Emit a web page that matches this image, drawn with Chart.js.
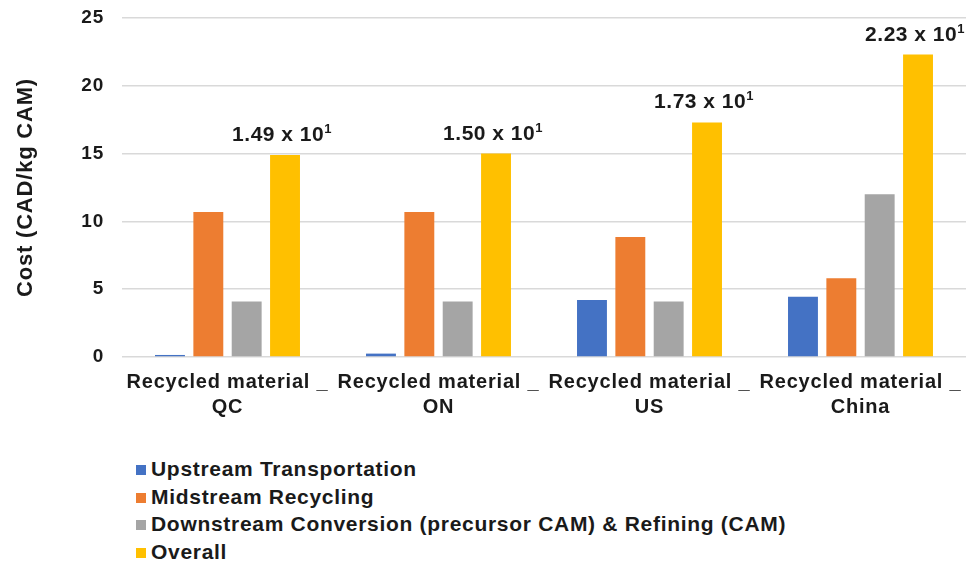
<!DOCTYPE html>
<html>
<head>
<meta charset="utf-8">
<script src="https://cdn.jsdelivr.net/npm/chart.js@4"></script>
<style>
  body { margin: 0; background: #fff; }
  #wrap { position: relative; width: 976px; height: 567px; }
  #box { position: absolute; left: 0; top: 0; width: 976px; height: 440px; }
  #legend { position: absolute; left: 136px; top: 455px; font: bold 21px "Liberation Sans", Arial, sans-serif; letter-spacing: 0.7px; color: #1a1a1a; }
  #legend div { height: 27.6px; line-height: 27.6px; white-space: nowrap; }
  #legend span { display: inline-block; width: 10px; height: 10px; margin-right: 5px; vertical-align: 1px; }
</style>
</head>
<body>
<div id="wrap">
  <div id="box"><canvas id="barChart"></canvas></div>
  <div id="legend"></div>
</div>
<script>
// categories and series
const categories = [
  ["Recycled material _", "QC"],
  ["Recycled material _", "ON"],
  ["Recycled material _", "US"],
  ["Recycled material _", "China"],
];
const upstream = [0.15, 0.25, 4.2, 4.45];
const midstream = [10.7, 10.7, 8.85, 5.8];
const downstream = [4.1, 4.1, 4.1, 12.0];
const overall = [14.9, 15.0, 17.3, 22.3];
const overallLabels = ["1.49", "1.50", "1.73", "2.23"];
const yTicks = [0, 5, 10, 15, 20, 25];

const seriesNames = [
  "Upstream Transportation",
  "Midstream Recycling",
  "Downstream Conversion (precursor CAM) & Refining (CAM)",
  "Overall",
];
const seriesColors = ["#4472C4", "#ED7D31", "#A5A5A5", "#FFC000"];

// the source text is a bit wider than plain Liberation Sans
const spacing = {
  id: "spacing",
  beforeLayout(chart) { chart.ctx.letterSpacing = "0.8px"; },
  beforeDraw(chart) { chart.ctx.letterSpacing = "0.8px"; },
};

// value labels on top of "Overall" bars, with superscript exponent
const topLabels = {
  id: "topLabels",
  afterDatasetsDraw(chart) {
    const ctx = chart.ctx;
    const meta = chart.getDatasetMeta(3);
    ctx.save();
    ctx.letterSpacing = "0.5px";
    ctx.fillStyle = "#1a1a1a";
    ctx.textBaseline = "alphabetic";
    ctx.textAlign = "left";
    meta.data.forEach((bar, i) => {
      const main = overallLabels[i] + " x 10";
      ctx.font = "bold 21px 'Liberation Sans', Arial, sans-serif";
      const w1 = ctx.measureText(main).width;
      ctx.font = "bold 13px 'Liberation Sans', Arial, sans-serif";
      const w2 = ctx.measureText("1").width;
      const x0 = bar.x - (w1 + w2) / 2 - 3;
      const y0 = bar.y - 14;
      ctx.font = "bold 21px 'Liberation Sans', Arial, sans-serif";
      ctx.fillText(main, x0, y0);
      ctx.font = "bold 13px 'Liberation Sans', Arial, sans-serif";
      ctx.fillText("1", x0 + w1, y0 - 8);
    });
    ctx.restore();
  },
};

const datasets = [upstream, midstream, downstream, overall].map((d, i) => ({
  label: seriesNames[i],
  data: d,
  backgroundColor: seriesColors[i],
  categoryPercentage: 0.727,
  barPercentage: 0.78,
}));

const ctx = document.getElementById("barChart").getContext("2d");
const chart = new Chart(ctx, {
  type: "bar",
  data: { labels: categories, datasets: datasets },
  plugins: [spacing, topLabels],
  options: {
    responsive: true,
    maintainAspectRatio: false,
    animation: false,
    layout: { padding: { top: 18, right: 10, left: 9, bottom: 0 } },
    plugins: {
      legend: { display: false },
      tooltip: { enabled: false },
    },
    scales: {
      x: {
        grid: { display: false },
        border: { display: false },
        ticks: {
          color: "#1a1a1a",
          font: { family: "'Liberation Sans', Arial", size: 20, weight: "bold", lineHeight: 1.25 },
          padding: 5,
          maxRotation: 0,
          autoSkip: false,
        },
        afterFit(scale) {
          scale.height = 83;
          scale.paddingLeft = 0;
          scale.paddingRight = 0;
        },
      },
      y: {
        min: 0,
        max: 25,
        afterBuildTicks(scale) { scale.ticks = yTicks.map((v) => ({ value: v })); },
        grid: { color: "#d9d9d9", lineWidth: 1.5, drawTicks: false },
        border: { display: false },
        ticks: {
          color: "#1a1a1a",
          font: { family: "'Liberation Sans', Arial", size: 19, weight: "bold" },
          padding: 18,
        },
        title: {
          display: true,
          text: "Cost (CAD/kg CAM)",
          color: "#1a1a1a",
          font: { family: "'Liberation Sans', Arial", size: 22, weight: "bold" },
        },
        afterFit(scale) {
          scale.width = 113;
          scale.paddingTop = 0;
          scale.paddingBottom = 0;
        },
      },
    },
  },
});

// vertical legend under the chart
const legend = document.getElementById("legend");
chart.data.datasets.forEach((ds) => {
  const row = document.createElement("div");
  const sw = document.createElement("span");
  sw.style.background = ds.backgroundColor;
  row.appendChild(sw);
  row.appendChild(document.createTextNode(ds.label));
  legend.appendChild(row);
});
</script>
</body>
</html>
